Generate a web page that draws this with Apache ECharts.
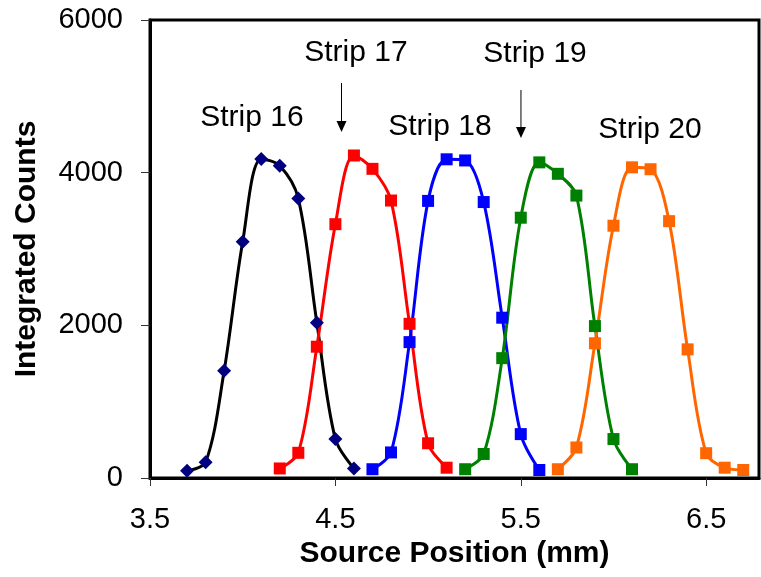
<!DOCTYPE html>
<html>
<head>
<meta charset="utf-8">
<script src="https://cdn.jsdelivr.net/npm/echarts@6/dist/echarts.min.js"></script>
<style>
  html, body { margin: 0; padding: 0; background: #fff; }
  #chart { width: 761px; height: 577px; }
</style>
</head>
<body>
<div id="chart"></div>
<script>
// strip scans: source position (mm) vs integrated counts
const strip16X = [3.7, 3.8, 3.9, 4.0, 4.1, 4.2, 4.3, 4.4, 4.5, 4.6];
const strip16Y = [95, 205, 1405, 3095, 4180, 4090, 3660, 2035, 510, 125];
const strip17X = [4.2, 4.3, 4.4, 4.5, 4.6, 4.7, 4.8, 4.9, 5.0, 5.1];
const strip17Y = [125, 330, 1720, 3325, 4225, 4050, 3635, 2020, 455, 135];
const strip18X = [4.7, 4.8, 4.9, 5.0, 5.1, 5.2, 5.3, 5.4, 5.5, 5.6];
const strip18Y = [115, 335, 1780, 3630, 4175, 4160, 3615, 2100, 575, 105];
const strip19X = [5.2, 5.3, 5.4, 5.5, 5.6, 5.7, 5.8, 5.9, 6.0, 6.1];
const strip19Y = [115, 315, 1570, 3410, 4135, 3985, 3700, 1990, 510, 115];
const strip20X = [5.7, 5.8, 5.9, 6.0, 6.1, 6.2, 6.3, 6.4, 6.5, 6.6, 6.7];
const strip20Y = [115, 400, 1765, 3305, 4070, 4045, 3365, 1685, 325, 135, 105];

const xTicks = [3.5, 4.5, 5.5, 6.5];
const yTicks = [0, 2000, 4000, 6000];

// annotation labels and arrows in data coordinates
const labelNames = ["Strip 16", "Strip 17", "Strip 18", "Strip 19", "Strip 20"];
const labelX = [4.05, 4.611, 5.064, 5.577, 6.197];
const labelY = [4716, 5568, 4598, 5555, 4559];
const arrowX = [4.533, 5.501];
const arrowTop = [5175, 5083];
const arrowTip = [4533, 4454];

const FONT = "'Liberation Sans', Arial, sans-serif";

const zip = (xs, ys) => xs.map((x, i) => [x, ys[i]]);

const mkSeries = (name, xs, ys, color, symbol, markerColor) => ({
  name: name,
  type: "line",
  data: zip(xs, ys),
  smooth: 0.33,
  symbol: symbol,
  symbolSize: symbol === "diamond" ? 14 : 12,
  showAllSymbol: true,
  lineStyle: { color: color, width: 3 },
  itemStyle: { color: markerColor || color, borderWidth: 0 },
  emphasis: { disabled: true },
  z: 3,
});

const chart = echarts.init(document.getElementById("chart"), null, { renderer: "canvas" });

const option = {
  backgroundColor: "#fff",
  animation: false,
  grid: {
    left: 150,
    right: 2,
    top: 20,
    bottom: 99,
    show: true,
    borderColor: "#000",
    borderWidth: 3,
    backgroundColor: "transparent",
  },
  xAxis: {
    type: "value",
    min: 3.5,
    max: 6.785,
    name: "Source Position (mm)",
    nameLocation: "middle",
    nameGap: 40,
    nameTextStyle: { fontFamily: FONT, fontSize: 30, fontWeight: "bold", color: "#000" },
    axisLine: { show: true, lineStyle: { color: "#000", width: 3 } },
    axisTick: { show: true, length: 8, customValues: xTicks, lineStyle: { color: "#333", width: 1 } },
    axisLabel: {
      customValues: xTicks,
      margin: 27,
      fontFamily: FONT,
      fontSize: 29,
      color: "#000",
      formatter: (v) => v.toFixed(1),
    },
    splitLine: { show: false },
  },
  yAxis: {
    type: "value",
    min: 0,
    max: 6000,
    interval: 2000,
    name: "Integrated Counts",
    nameLocation: "middle",
    nameGap: 108,
    nameRotate: 90,
    nameTextStyle: { fontFamily: FONT, fontSize: 30, fontWeight: "bold", color: "#000" },
    axisLine: { show: true, lineStyle: { color: "#000", width: 3 } },
    axisTick: { show: true, length: 9, lineStyle: { color: "#333", width: 1 } },
    axisLabel: {
      customValues: yTicks,
      margin: 27,
      fontFamily: FONT,
      fontSize: 29,
      color: "#000",
      formatter: (v) => String(v),
    },
    splitLine: { show: false },
  },
  series: [
    mkSeries("Strip 16", strip16X, strip16Y, "#000000", "diamond", "#000080"),
    mkSeries("Strip 17", strip17X, strip17Y, "#FF0000", "rect"),
    mkSeries("Strip 18", strip18X, strip18Y, "#0000FF", "rect"),
    mkSeries("Strip 19", strip19X, strip19Y, "#008000", "rect"),
    mkSeries("Strip 20", strip20X, strip20Y, "#FF6600", "rect"),
  ],
};

chart.setOption(option);

// place annotation text and arrows through the axis scales
const toPx = (x, y) => chart.convertToPixel({ gridIndex: 0 }, [x, y]);
const graphics = [];
labelNames.forEach((txt, i) => {
  const p = toPx(labelX[i], labelY[i]);
  graphics.push({
    type: "text",
    x: p[0],
    y: p[1],
    style: {
      text: txt,
      fontFamily: FONT,
      fontSize: 30,
      fill: "#000",
      align: "center",
      verticalAlign: "middle",
    },
    z: 10,
  });
});
arrowX.forEach((x, i) => {
  const a = toPx(x, arrowTop[i]);
  const b = toPx(x, arrowTip[i]);
  graphics.push({
    type: "line",
    shape: { x1: a[0], y1: a[1], x2: b[0], y2: b[1] - 8 },
    style: { stroke: "#000", lineWidth: 1 },
    z: 10,
  });
  graphics.push({
    type: "polygon",
    shape: { points: [[b[0] - 5, b[1] - 11], [b[0] + 5, b[1] - 11], [b[0], b[1]]] },
    style: { fill: "#000" },
    z: 10,
  });
});
chart.setOption({ graphic: graphics });
</script>
</body>
</html>
